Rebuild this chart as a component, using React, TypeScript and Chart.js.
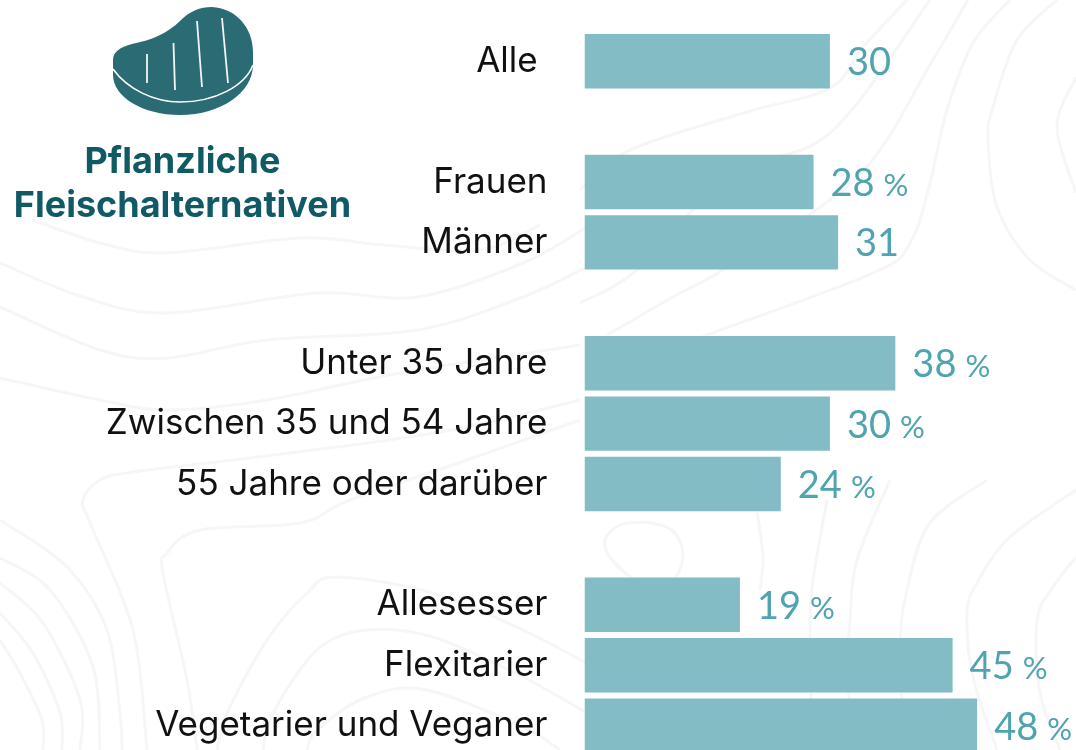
import React, { useEffect, useRef } from "react";
import { Chart, registerables } from "chart.js";

Chart.register(...registerables);

const categories = [
  "Alle ", "",
  "Frauen", "Männer", "",
  "Unter 35 Jahre", "Zwischen 35 und 54 Jahre", "55 Jahre oder darüber", "",
  "Allesesser", "Flexitarier", "Vegetarier und Veganer",
];
const values = [30, null, 28, 31, null, 38, 30, 24, null, 19, 45, 48];
const percentSigns = ["", "", "%", "", "", "%", "%", "%", "", "%", "%", "%"];
const titleLines = ["Pflanzliche", "Fleischalternativen"];

const LABEL_FONT = 'Inter, sans-serif';
const VALUE_FONT = 'Lato, sans-serif';

const contours: number[][][] = [
  [[1057,0],[1017,40],[993,107],[988,140],[997,207],[1030,260],[1076,290]],
  [[1076,77],[1057,127],[1076,193]],
  [[1010,0],[973,43],[947,110],[930,183],[910,243],[873,273],[707,335],[640,360]],
  [[968,0],[927,70],[880,150],[830,200],[723,270],[680,293],[607,335]],
  [[930,0],[830,133],[730,175],[637,270],[580,303]],
  [[907,0],[863,47],[830,88],[747,112],[630,150],[580,190]],
  [[1076,490],[1010,537],[977,583],[967,613],[973,677],[997,750]],
  [[1076,557],[1053,587],[1037,620],[1040,693],[1060,750]],
  [[987,480],[930,523],[907,590],[900,650],[905,750]],
  [[890,480],[857,560],[850,620],[848,680],[855,750]],
  [[827,500],[813,580],[810,627],[812,750]],
  [[757,512],[763,557],[760,590]],
  [[645,522],[672,530],[683,555],[672,580],[640,582],[612,560],[605,540],[620,525],[645,522]],
  [[0,520],[67,567],[107,630],[120,713],[122,750]],
  [[0,558],[50,590],[93,667],[100,750]],
  [[0,583],[43,623],[80,700],[80,750]],
  [[0,613],[33,653],[60,713],[62,750]],
  [[0,640],[20,673],[42,720],[43,750]],
  [[147,750],[133,630],[90,523],[83,500],[100,480],[133,472],[233,460],[367,443],[467,427],[580,400]],
  [[197,750],[187,680],[163,573],[167,553],[200,530],[300,523],[350,500],[467,460],[580,420]],
  [[217,750],[227,713],[267,640],[307,593],[337,577],[433,593],[523,630],[590,665]],
  [[263,750],[273,713],[317,650],[367,630],[433,637],[523,677],[590,715]],
  [[307,750],[317,730],[367,697],[427,690],[523,727],[560,750]],
  [[33,220],[100,243],[167,253],[300,238],[383,245],[480,250],[540,225]],
  [[0,263],[83,297],[167,313],[317,293],[417,297],[523,263],[590,225]],
  [[0,307],[100,350],[167,358],[267,340],[417,330],[523,297],[590,265]],
  [[0,378],[100,400],[167,410],[267,400],[400,373],[580,345]],
];

function smooth(points: number[][]): string {
  let d = `M${points[0][0]} ${points[0][1]}`;
  for (let i = 0; i < points.length - 1; i++) {
    const p0 = points[Math.max(0, i - 1)];
    const p1 = points[i];
    const p2 = points[i + 1];
    const p3 = points[Math.min(points.length - 1, i + 2)];
    d += ` C${p1[0] + (p2[0] - p0[0]) / 6} ${p1[1] + (p2[1] - p0[1]) / 6} ${p2[0] - (p3[0] - p1[0]) / 6} ${p2[1] - (p3[1] - p1[1]) / 6} ${p2[0]} ${p2[1]}`;
  }
  return d;
}

const valueLabels = {
  id: "valueLabels",
  afterDatasetsDraw(chart: any) {
    const { ctx } = chart;
    const bars = chart.getDatasetMeta(0).data;
    ctx.save();
    ctx.fillStyle = "#4fa4b0";
    ctx.textAlign = "left";
    ctx.textBaseline = "alphabetic";
    values.forEach((v, i) => {
      if (v === null) return;
      const el = bars[i];
      const x = el.x + 17;
      const y = el.y + 14;
      const text = String(v);
      ctx.font = `38px ${VALUE_FONT}`;
      ctx.fillText(text, x, y);
      const w = ctx.measureText(text).width;
      if (percentSigns[i]) {
        ctx.font = `31px ${VALUE_FONT}`;
        ctx.fillText(percentSigns[i], x + w + 9, y);
      }
    });
    ctx.restore();
  },
};

export default function App() {
  const ref = useRef<HTMLCanvasElement>(null);
  useEffect(() => {
    const chart = new Chart(ref.current!, {
      type: "bar",
      data: {
        labels: categories,
        datasets: [{
          data: values,
          backgroundColor: "#83bcc4",
          borderWidth: 0,
          categoryPercentage: 0.9,
          barPercentage: 1,
        }],
      },
      options: {
        indexAxis: "y",
        animation: false,
        responsive: false,
        layout: { autoPadding: false, padding: { top: 31, bottom: 34.2, left: 0, right: 0.7 } },
        plugins: { legend: { display: false }, tooltip: { enabled: false } },
        scales: {
          x: { display: false, min: 0, max: 60 },
          y: {
            grid: { display: false, drawTicks: false },
            border: { display: false },
            afterFit(scale: any) {
              scale.width = 584.5;
              scale.paddingTop = 0;
              scale.paddingBottom = 0;
            },
            ticks: {
              autoSkip: false,
              padding: 37,
              color: "#111111",
              font: { family: LABEL_FONT, size: 35 },
            },
          },
        },
      },
      plugins: [valueLabels],
    } as any);
    return () => chart.destroy();
  }, []);

  return (
    <div style={{ position: "fixed", left: 0, top: 0, width: 1076, height: 750, overflow: "hidden", background: "#ffffff" }}>
      <svg width={1076} height={750} style={{ position: "absolute", left: 0, top: 0 }}>
        {contours.map((c, i) => (
          <path key={i} d={smooth(c)} fill="none" stroke="#f6f6f6" strokeWidth={3} />
        ))}
        <path
          d="M113 60 C113 52 120 47 132 44 C152 40 168 33 180 21 C190 11 200 7 212 7 C235 8 253 27 253 52 L253 66 C252 92 222 115 180 115 C143 115 113 97 113 75 Z"
          fill="#2a6b74"
        />
        <path d="M113 69 C128 90 155 102 180 102 C215 102 245 86 253 65" fill="none" stroke="#ffffff" strokeWidth={1.6} />
        <g stroke="#f2f6f6" strokeWidth={1.8} fill="none">
          <line x1={147} y1={54} x2={147} y2={83} />
          <line x1={173.5} y1={43} x2={175} y2={90} />
          <line x1={197} y1={21} x2={202} y2={87} />
          <line x1={222} y1={18} x2={228} y2={83} />
        </g>
      </svg>
      <canvas ref={ref} width={1076} height={790} style={{ position: "absolute", left: 0, top: 0, display: "block" }} />
      <div style={{ position: "absolute", left: 0, top: 138, width: 365, textAlign: "center", font: '700 36px/44px Inter, sans-serif', color: "#0f5a64" }}>
        {titleLines.map((t) => <div key={t}>{t}</div>)}
      </div>
    </div>
  );
}
